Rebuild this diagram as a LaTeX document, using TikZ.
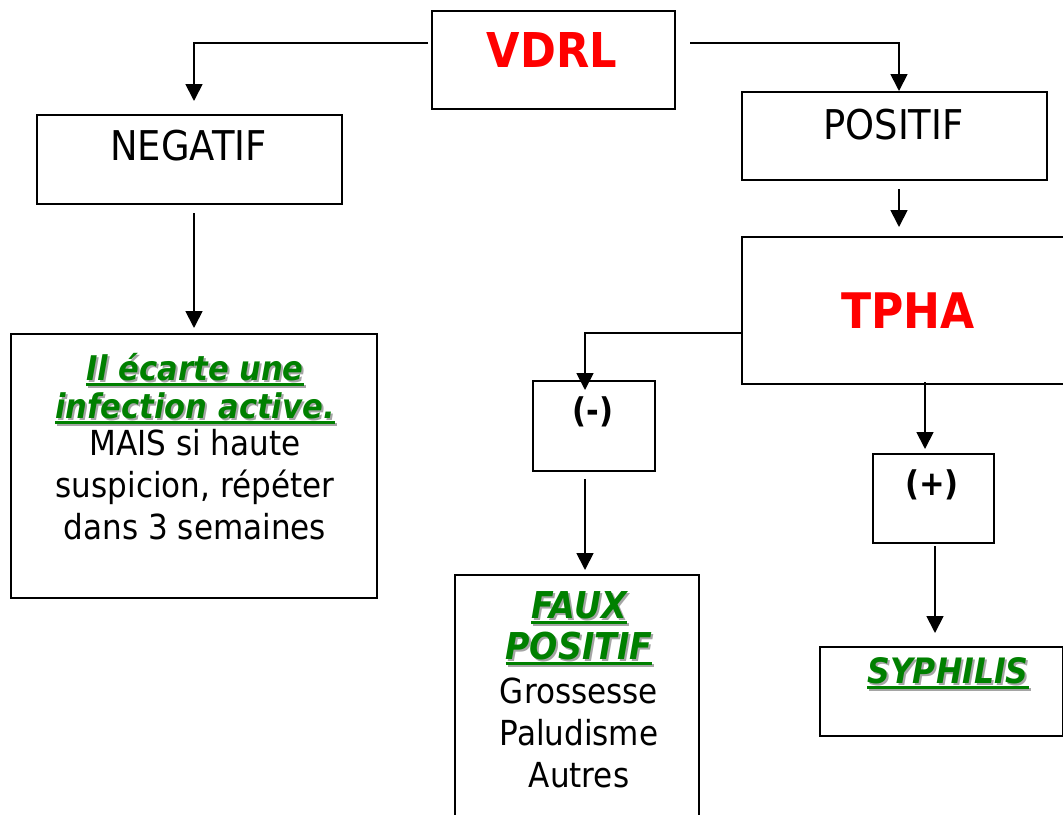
\documentclass[tikz,border=0pt]{standalone}
\usepackage{fontspec}
\setmainfont{DejaVu Sans}[FakeStretch=0.9]
\usetikzlibrary{arrows.meta}
\definecolor{titlered}{RGB}{255,0,0}
\definecolor{notegreen}{RGB}{0,128,0}
\definecolor{shadowgray}{RGB}{165,165,165}
\newcommand{\ulbox}[1]{\setbox0=\hbox{#1}\rlap{\rule[-6pt]{\wd0}{3pt}}\box0}
\newcommand{\shadowed}[1]{\rlap{\kern2pt\raisebox{-2pt}{\color{shadowgray}\ulbox{#1}}}{\color{notegreen}\ulbox{#1}}}
\newcommand{\note}[1]{{\bfseries\itshape\shadowed{#1}}}
\tikzset{
  box/.style={draw, line width=2pt, inner sep=0pt, anchor=north west},
  title/.style={font=\fontsize{48}{48}\selectfont\bfseries, text=titlered, anchor=base},
  plain/.style={font=\fontsize{41}{41}\selectfont, anchor=base},
  sign/.style={font=\fontsize{34}{34}\selectfont\bfseries, anchor=base},
  lines/.style={align=center, anchor=north, inner sep=0pt},
  conn/.style={->, line width=1.8pt}
}
\begin{document}
\begin{tikzpicture}[>={Triangle[length=17pt,width=17pt]}, x=1pt, y=-1pt]
\useasboundingbox (0,0) rectangle (1063,814);
% boxes
\node[box, minimum width=243pt, minimum height=98pt] (vdrl) at (431,10) {};
\node[box, minimum width=305pt, minimum height=89pt] (negatif) at (36,114) {};
\node[box, minimum width=305pt, minimum height=88pt] (positif) at (741,91) {};
\node[box, minimum width=329pt, minimum height=147pt] (tpha) at (741,236) {};
\node[box, minimum width=122pt, minimum height=90pt] (moins) at (532,380) {};
\node[box, minimum width=121pt, minimum height=89pt] (plus) at (872,453) {};
\node[box, minimum width=366pt, minimum height=264pt] (ilec) at (10,333) {};
\node[box, minimum width=244pt, minimum height=260pt] (faux) at (454,574) {};
\node[box, minimum width=243pt, minimum height=89pt] (syph) at (819,646) {};
% texts
\node[title] (vdrltxt) at (552,67) {VDRL};
\node[title, font=\fontsize{49}{49}\selectfont\bfseries] (tphatxt) at (908,328) {TPHA};
\node[plain] (negatiftxt) at (188.5,160) {NEGATIF};
\node[plain] (positiftxt) at (893.5,139) {POSITIF};
\node[sign] (moinstxt) at (593,422) {(-)};
\node[sign] (plustxt) at (932,495) {(+)};
\node[lines, font=\fontsize{34.5}{42}\selectfont] (ilectxt) at (195,353)
  {\fontsize{34}{38}\selectfont\note{Il écarte une}\\[-4pt]
   \fontsize{34}{38}\selectfont\note{infection active.}\\[-5pt]
   MAIS si haute\\ suspicion, répéter\\ dans 3 semaines};
\node[lines, font=\fontsize{34.5}{42}\selectfont] (fauxtxt) at (579,591)
  {\fontsize{37}{42}\selectfont\note{FAUX}\\[-1pt]
   \fontsize{37}{42}\selectfont\note{POSITIF}\\[2pt]
   Grossesse\\ Paludisme\\ Autres};
\node[anchor=base, font=\fontsize{35}{35}\selectfont] (syphtxt) at (948,683) {\note{SYPHILIS}};
% arrows
\draw[conn] ([xshift=-3pt,yshift=17pt]vdrl.west) -| ([xshift=4.5pt,yshift=13pt]negatif.north);
\draw[conn] ([xshift=14pt,yshift=17pt]vdrl.east) -| ([xshift=4.5pt]positif.north);
\draw[conn] ([xshift=4.5pt,yshift=-8pt]positif.south) -- ([xshift=4.5pt,yshift=9pt]positif.south |- tpha.north);
\draw[conn] ([yshift=-22.5pt]tpha.west) -| ([xshift=-9pt,yshift=-10pt]moins.north);
\draw[conn] ([xshift=-9pt,yshift=-7pt]moins.south) -- ([xshift=-9pt,yshift=4pt]moins.south |- faux.north);
\draw[conn] ([xshift=-8.5pt,yshift=3pt]plus.north |- tpha.south) -- ([xshift=-8.5pt,yshift=4pt]plus.north);
\draw[conn] ([xshift=1.5pt,yshift=-2pt]plus.south) -- ([xshift=1.5pt,yshift=13pt]plus.south |- syph.north);
\draw[conn] ([yshift=-8pt]negatif.south -| ilec.north) -- ([yshift=5pt]ilec.north);
\end{tikzpicture}
\end{document}
